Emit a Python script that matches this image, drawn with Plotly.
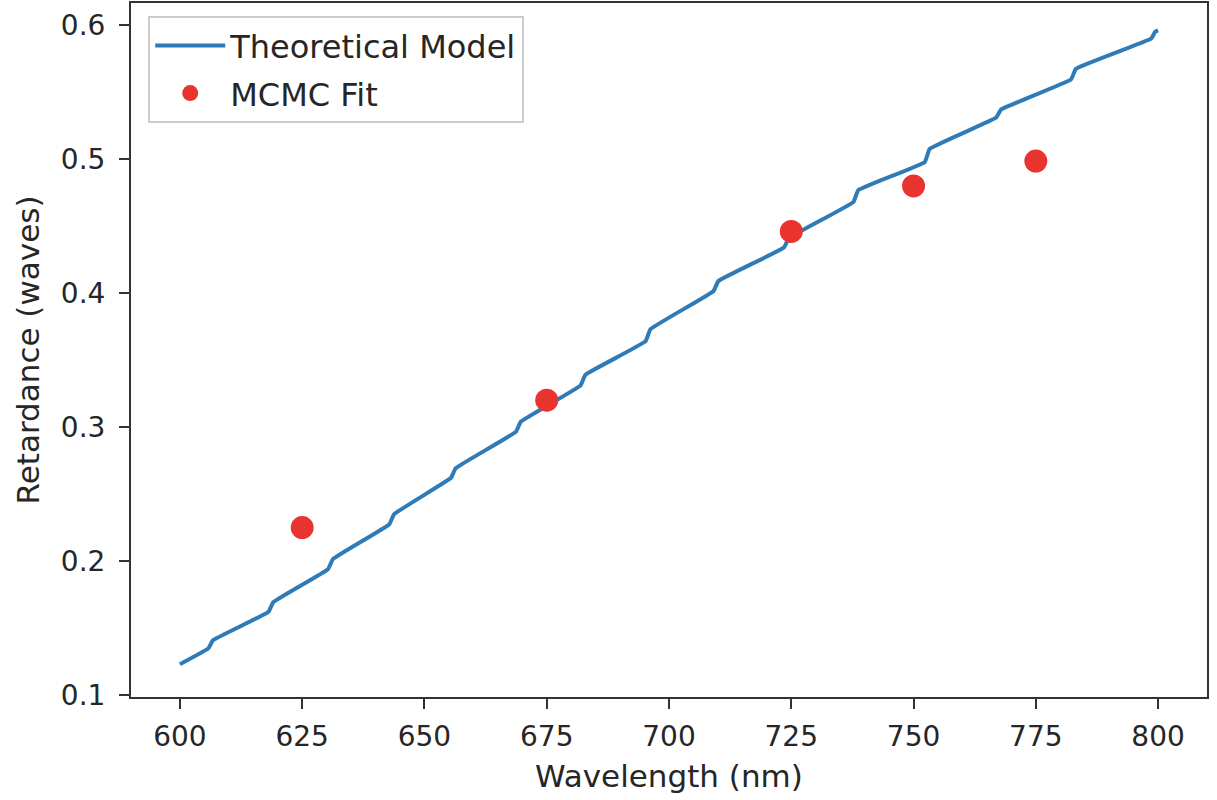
import plotly.graph_objects as go

# Theoretical model (steps drawn as before/after pairs)
model_wavelength = [600, 605.8, 606.8, 618.1, 619.1, 630.3, 631.3, 642.8, 643.8,
                    655.4, 656.4, 668.7, 669.7, 681.9, 682.9, 695.2, 696.2,
                    709.1, 710.1, 723.5, 724.5, 737.7, 738.7, 752.3, 753.3,
                    766.9, 767.9, 782.2, 783.2, 798.6, 799.4, 800]
model_retardance = [0.123, 0.1348, 0.141, 0.162, 0.1693, 0.194, 0.2015, 0.2274, 0.235,
                    0.262, 0.2693, 0.2965, 0.304, 0.331, 0.339, 0.364, 0.373,
                    0.4015, 0.409, 0.434, 0.441, 0.468, 0.4768, 0.4978, 0.5076,
                    0.531, 0.537, 0.5595, 0.5674, 0.590, 0.595, 0.596]

# MCMC fit points
fit_wavelength = [625, 675, 725, 750, 775]
fit_retardance = [0.225, 0.320, 0.446, 0.480, 0.4985]

x_ticks = [600, 625, 650, 675, 700, 725, 750, 775, 800]
y_ticks = [0.1, 0.2, 0.3, 0.4, 0.5, 0.6]

FONT = "DejaVu Sans"
TXT = "#262626"

fig = go.Figure()
fig.add_trace(go.Scatter(
    x=model_wavelength, y=model_retardance, mode="lines",
    name="Theoretical Model", legendgroup="a",
    line=dict(color="#2f7bb8", width=4, shape="spline", smoothing=0.3),
))
fig.add_trace(go.Scatter(
    x=fit_wavelength, y=fit_retardance, mode="markers",
    name="MCMC Fit", legendgroup="b",
    marker=dict(color="#e8332f", size=23, line=dict(width=0)),
))

axis_common = dict(
    showgrid=False, zeroline=False, showline=True, linecolor="#333333",
    linewidth=2, mirror=True, ticks="outside", ticklen=10, tickwidth=2,
    tickcolor="#333333", tickfont=dict(family=FONT, size=28, color=TXT),
)

fig.update_layout(
    width=1217, height=800,
    margin=dict(l=131, r=10, t=1, b=103),
    paper_bgcolor="white", plot_bgcolor="white",
    font=dict(family=FONT, color=TXT),
    xaxis=dict(range=[590, 810], tickvals=x_ticks,
               ticktext=[str(v) for v in x_ticks],
               ticklabelstandoff=3,
               title=dict(text="Wavelength (nm)", font=dict(family=FONT, size=31, color=TXT), standoff=14),
               **axis_common),
    yaxis=dict(range=[0.0985, 0.6165], tickvals=y_ticks,
               ticktext=[f"{v:.1f}" for v in y_ticks],
               ticklabelstandoff=8,
               title=dict(text="Retardance (waves)", font=dict(family=FONT, size=31, color=TXT), standoff=12),
               **axis_common),
    legend=dict(x=0.016, y=0.981, xanchor="left", yanchor="top",
                bgcolor="rgba(255,255,255,0.8)", bordercolor="#cccccc", borderwidth=2,
                font=dict(family=FONT, size=32, color=TXT),
                itemwidth=70, tracegroupgap=3),
    showlegend=True,
)

fig.write_html("out.html")
